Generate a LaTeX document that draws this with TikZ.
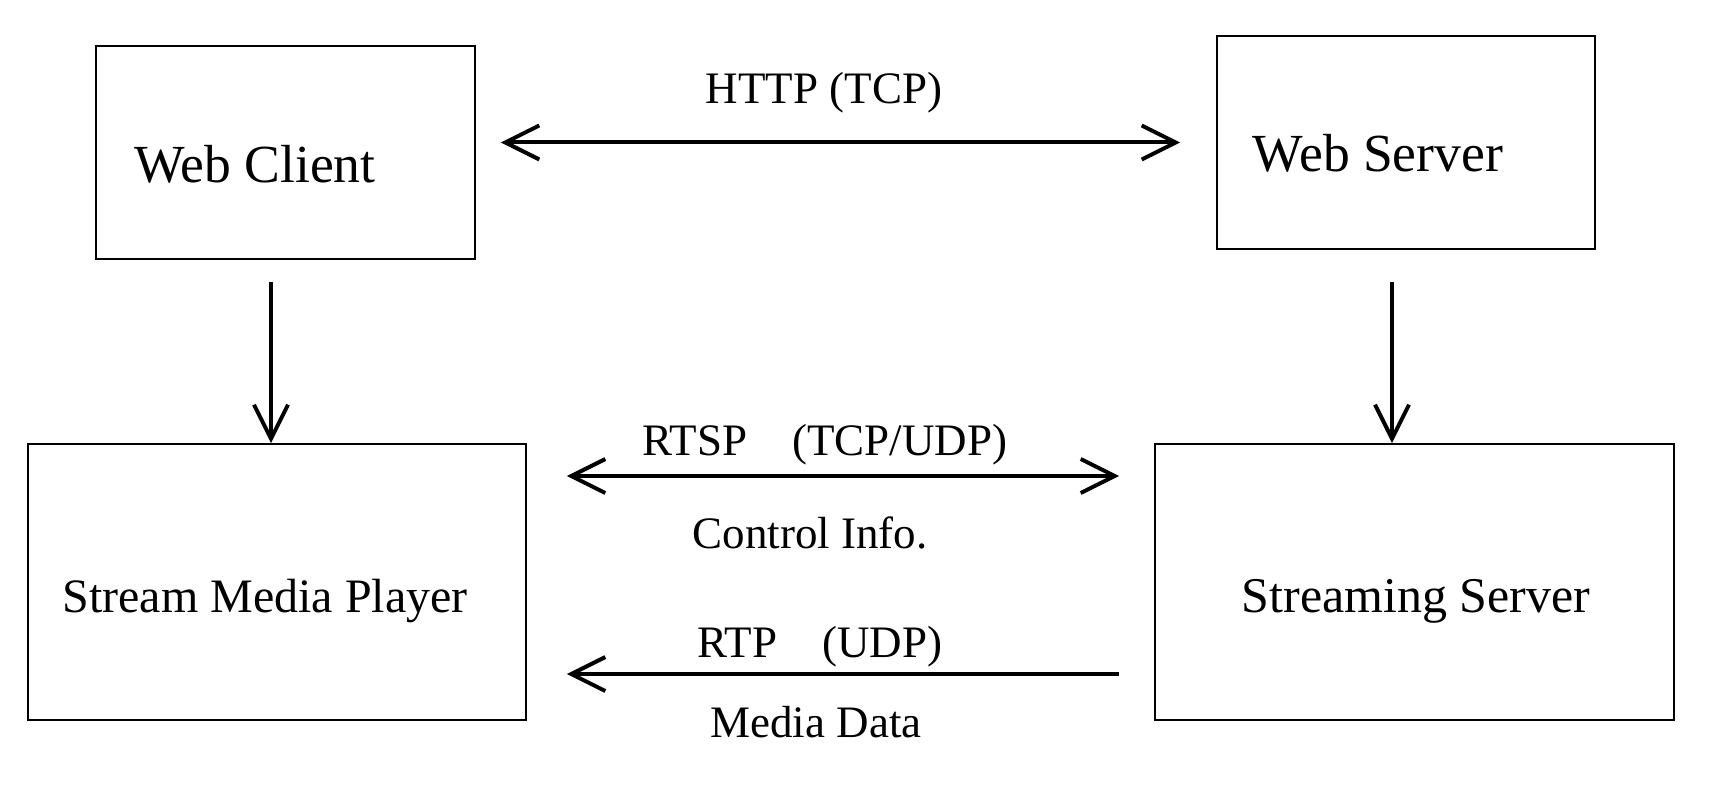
\documentclass[tikz,border=0pt]{standalone}
\usepackage{fontspec}
\setmainfont{Liberation Serif}
\usetikzlibrary{arrows.meta}

\begin{document}
\begin{tikzpicture}[x=0.5pt, y=-0.5pt,
    box/.style = {draw, line width=0.8pt, inner sep=0pt},
    boxtext/.style = {font=\fontsize{26.8}{30}\selectfont, anchor=base, inner sep=0pt},
    lbl/.style = {font=\fontsize{22.5}{26}\selectfont, anchor=base, inner sep=0pt},
    link/.style = {line width=2pt, >={Straight Barb[length=17pt, width=17pt, line width=2pt]}}]
            \useasboundingbox (0,0) rectangle (1712,791);

            % Boxes
            \node[box, minimum width=189.5pt, minimum height=106.5pt] (client) at (285.5,152.5) {};
            \node[box, minimum width=189pt, minimum height=106.5pt] (web) at (1406,142.5) {};
            \node[box, minimum width=249pt, minimum height=138pt] (player) at (277,582) {};
            \node[box, minimum width=259.5pt, minimum height=138pt] (stream) at (1414.5,582) {};

            \node[boxtext] (clienttxt) at (255,183) {Web Client};
            \node[boxtext] (webtxt) at (1378,172) {Web Server};
            \node[boxtext, font=\fontsize{24}{28}\selectfont] (playertxt) at (265,612) {Stream Media Player};
            \node[boxtext, font=\fontsize{25}{29}\selectfont] (streamtxt) at (1416,612) {Streaming Server};

            % Lines
            \draw[link, <->, shorten <=12.5pt, shorten >=18pt] (client.east |- web.west) -- (web.west);
            \draw[link, ->, shorten <=11pt] ([xshift=-7.25pt]client.south) -- ([xshift=-7.25pt]client.south |- player.north);
            \draw[link, ->, shorten <=16pt] ([xshift=-7pt]web.south) -- ([xshift=-7pt]web.south |- stream.north);
            \draw[link, <->, shorten <=20pt, shorten >=17.5pt] ([yshift=53pt]player.east) -- ([yshift=53pt]player.east -| stream.west);
            \draw[link, ->, shorten <=17.5pt, shorten >=20pt] ([yshift=-46pt]stream.west) -- ([yshift=-46pt]stream.west -| player.east);

            % Labels
            \node[lbl] (http) at (824,104) {HTTP (TCP)};
            \node[lbl] (rtsp) at (825,455) {RTSP\quad(TCP/UDP)};
            \node[lbl] (ctrl) at (810,548) {Control Info.};
            \node[lbl] (rtp) at (820,657) {RTP\quad(UDP)};
            \node[lbl] (data) at (816,737) {Media Data};
        \end{tikzpicture}
\end{document}
